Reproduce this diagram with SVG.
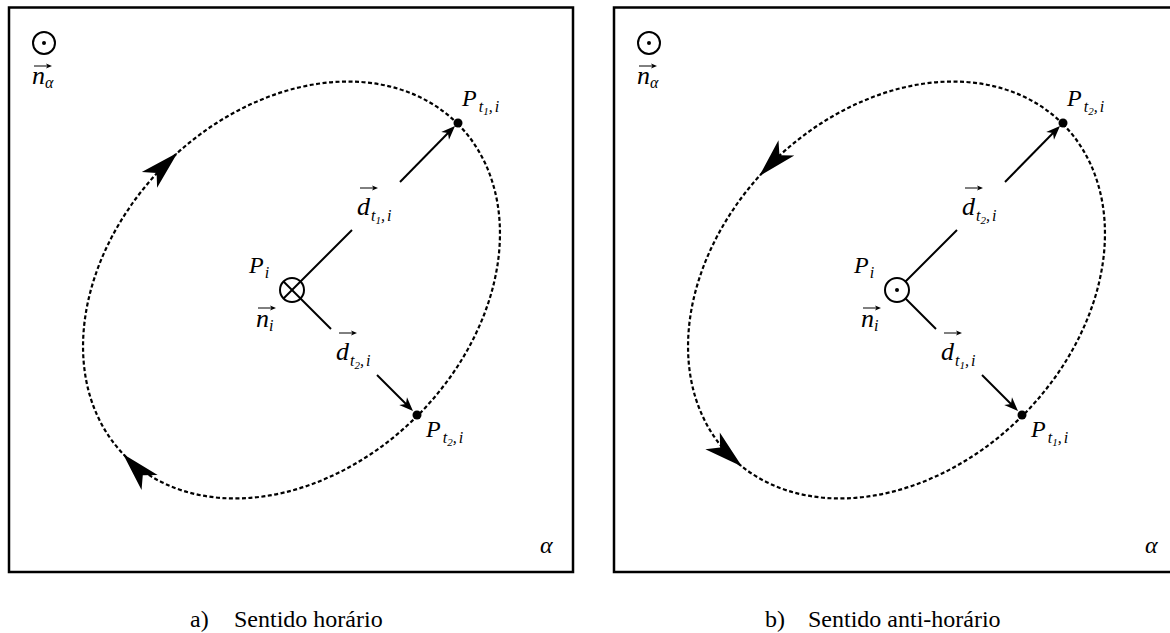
<svg xmlns="http://www.w3.org/2000/svg" xmlns:xlink="http://www.w3.org/1999/xlink" width="1170" height="633" viewBox="0 0 1170 633">
<style>
.frame{fill:none;stroke:#000;stroke-width:2.5}
.ell{fill:none;stroke:#000;stroke-width:2.2;stroke-dasharray:4 2.5}
.vec{fill:none;stroke:#000;stroke-width:2}
.ring{fill:#fff;stroke:#000;stroke-width:2}
.m{font-family:"Liberation Serif","Times New Roman",serif;font-style:italic;font-size:24px;fill:#000}
.d{font-size:26px}
.s{font-size:16px}
.ss{font-size:11px}
.cap{font-family:"Liberation Serif","Times New Roman",serif;font-size:24px;fill:#000}
</style>
<defs>
<path id="big" d="M0,0 L-39,-11 L-29,0 L-39,11 Z" fill="#000"/>
<path id="vh" d="M0,0 L-14,-5.5 L-10,0 L-14,5.5 Z" fill="#000"/>
<g id="ov"><line x1="0" y1="0" x2="14" y2="0" stroke="#000" stroke-width="1"/><path d="M18,0 L12,-2.5 L13.5,0 L12,2.5 Z" fill="#000"/></g>
</defs>
<rect width="1170" height="633" fill="#fff"/>

<g id="panel-a">
  <rect id="frame-a" class="frame" x="9" y="7.5" width="564" height="564.5"/>
  <g id="connectors-a">
    <ellipse class="ell" cx="291.5" cy="290" rx="235" ry="178" transform="rotate(-45 291.5 290)"/>
    <use xlink:href="#big" transform="translate(177.5 152.8) rotate(-44)"/>
    <use xlink:href="#big" transform="translate(123 454) rotate(-133)"/>
    <line class="vec" x1="300.5" y1="281.5" x2="352" y2="230"/>
    <line class="vec" x1="400" y1="182" x2="450" y2="131"/>
    <use xlink:href="#vh" transform="translate(455 126) rotate(-45)"/>
    <line class="vec" x1="300.5" y1="298.5" x2="331" y2="329"/>
    <line class="vec" x1="377" y1="375" x2="408" y2="406"/>
    <use xlink:href="#vh" transform="translate(413 411) rotate(45)"/>
  </g>
  <g id="n-alpha-a">
    <circle class="ring" cx="44" cy="43" r="11"/>
    <circle cx="44" cy="43" r="2" fill="#000"/>
    <use xlink:href="#ov" transform="translate(34 66)"/>
    <text class="m d" x="32" y="84">n<tspan class="s" dy="4">α</tspan></text>
  </g>
  <g id="Pi-a">
    <circle class="ring" cx="292" cy="290" r="12"/>
    <line class="vec" x1="283.5" y1="281.5" x2="300.5" y2="298.5"/>
    <line class="vec" x1="283.5" y1="298.5" x2="300.5" y2="281.5"/>
    <text class="m" x="249" y="273">P<tspan class="s" dx="1" dy="5">i</tspan></text>
    <use xlink:href="#ov" transform="translate(258 308)"/>
    <text class="m d" x="256" y="327">n<tspan class="s" dy="4">i</tspan></text>
  </g>
  <g id="Pt1-a">
    <circle cx="458" cy="123" r="4.5" fill="#000"/>
    <text class="m" x="462" y="106">P<tspan class="s" dx="2" dy="6">t</tspan><tspan class="ss" dy="3">1</tspan><tspan class="s" dy="-3">,</tspan><tspan class="s" dx="2">i</tspan></text>
  </g>
  <g id="Pt2-a">
    <circle cx="417" cy="415" r="4.5" fill="#000"/>
    <text class="m" x="426" y="437">P<tspan class="s" dx="2" dy="6">t</tspan><tspan class="ss" dy="3">2</tspan><tspan class="s" dy="-3">,</tspan><tspan class="s" dx="2">i</tspan></text>
  </g>
  <g id="d1-a">
    <use xlink:href="#ov" transform="translate(360 188)"/>
    <text class="m d" x="357" y="215">d<tspan class="s" dx="1" dy="6">t</tspan><tspan class="ss" dy="3">1</tspan><tspan class="s" dy="-3">,</tspan><tspan class="s" dx="2">i</tspan></text>
  </g>
  <g id="d2-a">
    <use xlink:href="#ov" transform="translate(339 333)"/>
    <text class="m d" x="336" y="360">d<tspan class="s" dx="1" dy="6">t</tspan><tspan class="ss" dy="3">2</tspan><tspan class="s" dy="-3">,</tspan><tspan class="s" dx="2">i</tspan></text>
  </g>
  <text id="alpha-a" class="m" x="540" y="553">α</text>
  <g id="caption-a">
    <text class="cap" x="190" y="627">a)</text>
    <text class="cap" x="234" y="627">Sentido horário</text>
  </g>
</g>

<g id="panel-b">
  <rect id="frame-b" class="frame" x="614" y="7.5" width="564" height="564.5"/>
  <g id="connectors-b">
    <ellipse class="ell" cx="896.5" cy="290" rx="235" ry="178" transform="rotate(-45 896.5 290)"/>
    <use xlink:href="#big" transform="translate(759.3 176) rotate(134)"/>
    <use xlink:href="#big" transform="translate(742 466.5) rotate(41)"/>
    <line class="vec" x1="905.5" y1="281.5" x2="957" y2="230"/>
    <line class="vec" x1="1005" y1="182" x2="1055" y2="131"/>
    <use xlink:href="#vh" transform="translate(1060 126) rotate(-45)"/>
    <line class="vec" x1="905.5" y1="298.5" x2="936" y2="329"/>
    <line class="vec" x1="982" y1="375" x2="1013" y2="406"/>
    <use xlink:href="#vh" transform="translate(1018 411) rotate(45)"/>
  </g>
  <g id="n-alpha-b">
    <circle class="ring" cx="649" cy="43" r="11"/>
    <circle cx="649" cy="43" r="2" fill="#000"/>
    <use xlink:href="#ov" transform="translate(639 66)"/>
    <text class="m d" x="637" y="84">n<tspan class="s" dy="4">α</tspan></text>
  </g>
  <g id="Pi-b">
    <circle class="ring" cx="897" cy="290" r="12"/>
    <circle cx="897" cy="290" r="2" fill="#000"/>
    <text class="m" x="854" y="273">P<tspan class="s" dx="1" dy="5">i</tspan></text>
    <use xlink:href="#ov" transform="translate(863 308)"/>
    <text class="m d" x="861" y="327">n<tspan class="s" dy="4">i</tspan></text>
  </g>
  <g id="Pt2-b">
    <circle cx="1063" cy="123" r="4.5" fill="#000"/>
    <text class="m" x="1067" y="106">P<tspan class="s" dx="2" dy="6">t</tspan><tspan class="ss" dy="3">2</tspan><tspan class="s" dy="-3">,</tspan><tspan class="s" dx="2">i</tspan></text>
  </g>
  <g id="Pt1-b">
    <circle cx="1022" cy="415" r="4.5" fill="#000"/>
    <text class="m" x="1031" y="437">P<tspan class="s" dx="2" dy="6">t</tspan><tspan class="ss" dy="3">1</tspan><tspan class="s" dy="-3">,</tspan><tspan class="s" dx="2">i</tspan></text>
  </g>
  <g id="d2-b">
    <use xlink:href="#ov" transform="translate(965 188)"/>
    <text class="m d" x="962" y="215">d<tspan class="s" dx="1" dy="6">t</tspan><tspan class="ss" dy="3">2</tspan><tspan class="s" dy="-3">,</tspan><tspan class="s" dx="2">i</tspan></text>
  </g>
  <g id="d1-b">
    <use xlink:href="#ov" transform="translate(944 333)"/>
    <text class="m d" x="941" y="360">d<tspan class="s" dx="1" dy="6">t</tspan><tspan class="ss" dy="3">1</tspan><tspan class="s" dy="-3">,</tspan><tspan class="s" dx="2">i</tspan></text>
  </g>
  <text id="alpha-b" class="m" x="1145" y="553">α</text>
  <g id="caption-b">
    <text class="cap" x="765" y="627">b)</text>
    <text class="cap" x="808" y="627">Sentido anti-horário</text>
  </g>
</g>
</svg>
